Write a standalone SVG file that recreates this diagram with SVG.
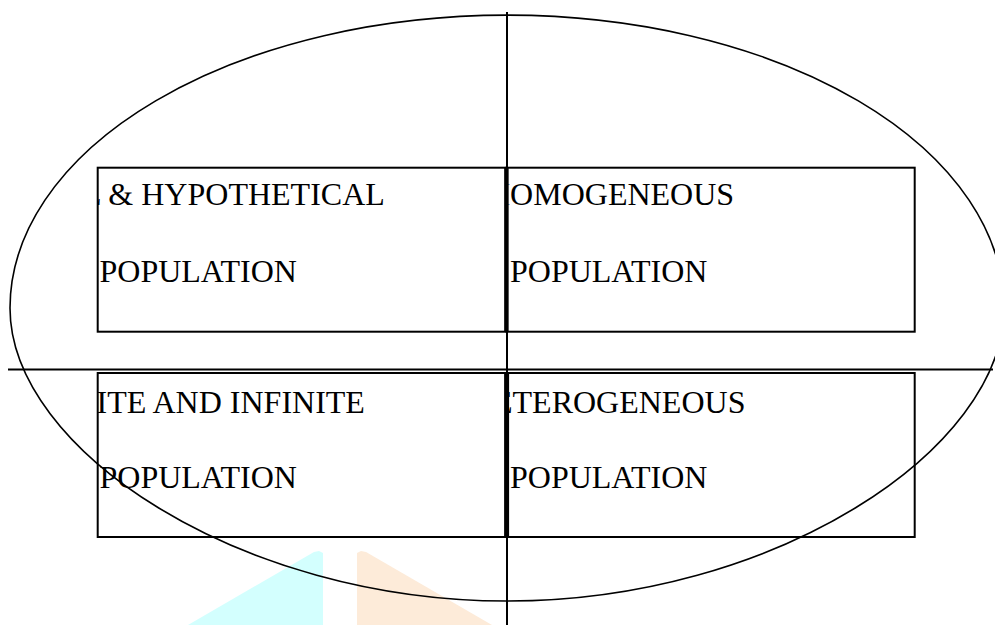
<svg xmlns="http://www.w3.org/2000/svg" width="995" height="625" viewBox="0 0 995 625">
<style>
.box{fill:none;stroke:#000;stroke-width:2}
.ln{stroke:#000;fill:none}
.t{font-family:"Liberation Serif","Times New Roman",serif;font-size:32px;fill:#000}
</style>
<defs>
<clipPath id="cl"><rect x="98" y="160" width="406" height="390"/></clipPath>
<clipPath id="cr"><rect x="508.5" y="160" width="406" height="390"/></clipPath>
</defs>
<rect width="995" height="625" fill="#fff"/>
<g id="decor">
<polygon points="188,625 314,552 319,551 323,553 323,625" fill="#d3fffe"/>
<polygon points="357,553 361,551 366,552 492,625 357,625" fill="#fdebd9"/>
</g>
<g id="node-tl">
<rect class="box" x="97.7" y="167.7" width="409" height="164"/>
<g clip-path="url(#cl)">
<text class="t" x="82" y="205">L &amp; HYPOTHETICAL</text>
<text class="t" x="99.5" y="281.5">POPULATION</text>
</g>
</g>
<g id="node-tr">
<rect class="box" x="506.5" y="167.7" width="408.2" height="164"/>
<g clip-path="url(#cr)">
<text class="t" x="487" y="205">HOMOGENEOUS</text>
<text class="t" x="510" y="281.5">POPULATION</text>
</g>
</g>
<g id="node-bl">
<rect class="box" x="97.7" y="373" width="409" height="164"/>
<g clip-path="url(#cl)">
<text class="t" x="96.5" y="413">ITE AND INFINITE</text>
<text class="t" x="99.5" y="488">POPULATION</text>
</g>
</g>
<g id="node-br">
<rect class="box" x="506.5" y="373" width="408.2" height="164"/>
<g clip-path="url(#cr)">
<text class="t" x="493" y="413">ETEROGENEOUS</text>
<text class="t" x="510" y="488">POPULATION</text>
</g>
</g>
<g id="connectors">
<line class="ln" x1="507" y1="12" x2="507" y2="625" stroke-width="2"/>
<line class="ln" x1="8" y1="369.5" x2="993" y2="369.5" stroke-width="2"/>
<line class="ln" x1="506.4" y1="167.7" x2="506.4" y2="331.7" stroke-width="4.5"/>
<line class="ln" x1="506.6" y1="373" x2="506.6" y2="537" stroke-width="5"/>
<path class="ln" stroke-width="1.6" d="M10,308 A497,293 0 0 1 1004,308 C1004,450 774,601 507,601 C240,601 10,450 10,308 Z"/>
</g>
</svg>
